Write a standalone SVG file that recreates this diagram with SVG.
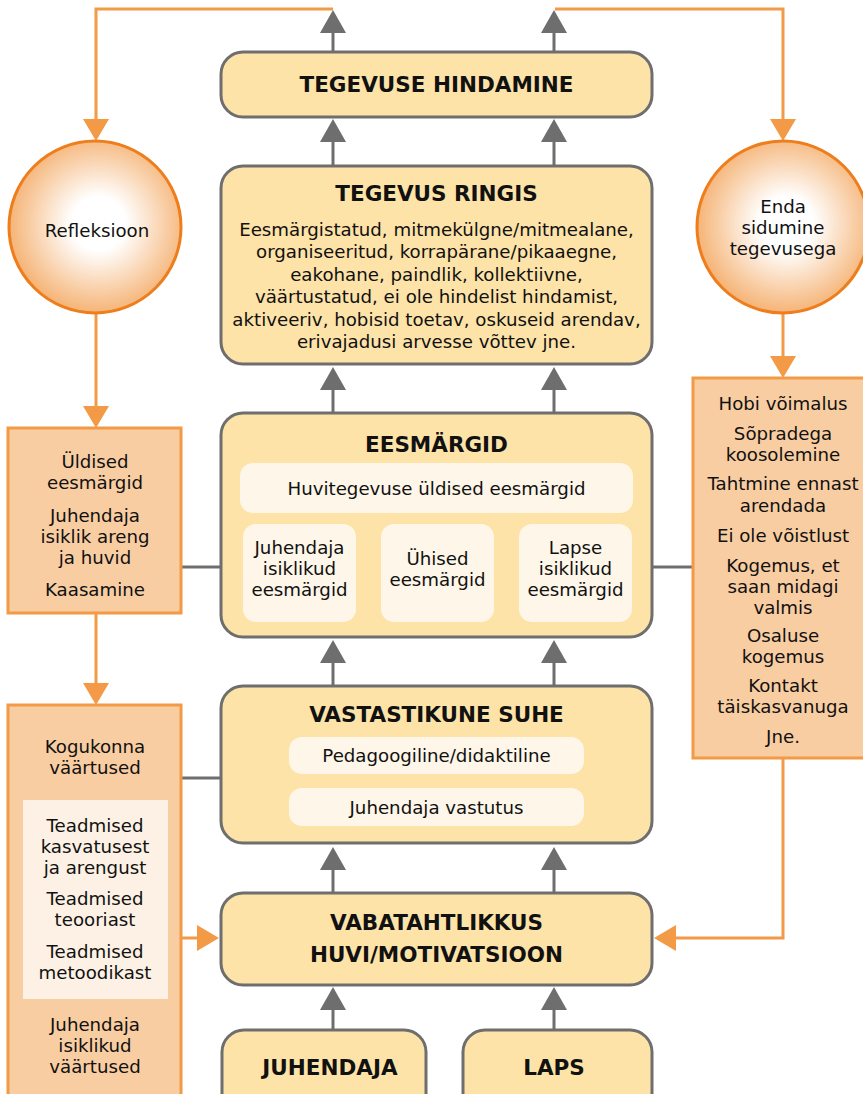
<svg xmlns="http://www.w3.org/2000/svg" width="863" height="1094" viewBox="0 0 863 1094">
  <defs>
    <style>
      .box { fill: #fde3a8; stroke: #6e6e6e; stroke-width: 3; }
      .inner { fill: #fef6e8; }
      .side { fill: #f9cda2; stroke: #f29a46; stroke-width: 3; }
      .circ { fill: url(#glow); stroke: #ee7d1c; stroke-width: 3; }
      .gray { fill: none; stroke: #6e6e6e; stroke-width: 3; }
      .orange { fill: none; stroke: #f29a46; stroke-width: 3; }
      text { font-family: "DejaVu Sans", "Noto Sans", sans-serif; fill: #111; text-anchor: middle; }
      .t { font-size: 18.2px; }
      .h { font-size: 21.5px; font-weight: bold; }
    </style>
    <radialGradient id="glow" cx="0.52" cy="0.48" r="0.52">
      <stop offset="0" stop-color="#ffffff"/>
      <stop offset="0.3" stop-color="#ffffff"/>
      <stop offset="1" stop-color="#f5b477"/>
    </radialGradient>
    <marker id="ag" markerUnits="userSpaceOnUse" viewBox="0 0 23 26" refX="0" refY="13" markerWidth="23" markerHeight="26" orient="auto">
      <path d="M0,0 L23,13 L0,26 z" fill="#6e6e6e"/>
    </marker>
    <marker id="ao" markerUnits="userSpaceOnUse" viewBox="0 0 22 26" refX="0" refY="13" markerWidth="22" markerHeight="26" orient="auto">
      <path d="M0,0 L22,13 L0,26 z" fill="#f29a46"/>
    </marker>
  </defs>

  <g id="connectors">
    <!-- upward flow through the centre column -->
    <path class="gray" d="M333,52 V33" marker-end="url(#ag)"/>
    <path class="gray" d="M554,52 V33" marker-end="url(#ag)"/>
    <path class="gray" d="M333,165 V142" marker-end="url(#ag)"/>
    <path class="gray" d="M554,165 V142" marker-end="url(#ag)"/>
    <path class="gray" d="M333,413 V390" marker-end="url(#ag)"/>
    <path class="gray" d="M554,413 V390" marker-end="url(#ag)"/>
    <path class="gray" d="M333,686 V663" marker-end="url(#ag)"/>
    <path class="gray" d="M554,686 V663" marker-end="url(#ag)"/>
    <path class="gray" d="M333,893 V870" marker-end="url(#ag)"/>
    <path class="gray" d="M554,893 V870" marker-end="url(#ag)"/>
    <path class="gray" d="M333,1030 V1010" marker-end="url(#ag)"/>
    <path class="gray" d="M554,1030 V1010" marker-end="url(#ag)"/>
    <!-- side links -->
    <path class="gray" d="M181,567 H221"/>
    <path class="gray" d="M652,567 H693"/>
    <path class="gray" d="M181,778 H221"/>
    <!-- feedback loops -->
    <path class="orange" d="M333,9 H96 V119" marker-end="url(#ao)"/>
    <path class="orange" d="M555,9 H783 V119" marker-end="url(#ao)"/>
    <path class="orange" d="M96,313 V406" marker-end="url(#ao)"/>
    <path class="orange" d="M96,613 V683" marker-end="url(#ao)"/>
    <path class="orange" d="M783,313 V356" marker-end="url(#ao)"/>
    <path class="orange" d="M783,758 V938 H676" marker-end="url(#ao)"/>
    <path class="orange" d="M181,938 H197" marker-end="url(#ao)"/>
  </g>

  <g id="hindamine">
    <rect class="box" x="221" y="52" width="431" height="65" rx="22"/>
    <text class="h" x="436.5" y="92">TEGEVUSE HINDAMINE</text>
  </g>

  <g id="ringis">
    <rect class="box" x="221" y="166" width="431" height="198" rx="22"/>
    <text class="h" x="436.5" y="201">TEGEVUS RINGIS</text>
    <text class="t" x="436.5" y="236">Eesmärgistatud, mitmekülgne/mitmealane,</text>
    <text class="t" x="436.5" y="258">organiseeritud, korrapärane/pikaaegne,</text>
    <text class="t" x="436.5" y="281">eakohane, paindlik, kollektiivne,</text>
    <text class="t" x="436.5" y="303">väärtustatud, ei ole hindelist hindamist,</text>
    <text class="t" x="436.5" y="326">aktiveeriv, hobisid toetav, oskuseid arendav,</text>
    <text class="t" x="436.5" y="348">erivajadusi arvesse võttev jne.</text>
  </g>

  <g id="eesmargid">
    <rect class="box" x="221" y="413" width="431" height="224" rx="22"/>
    <text class="h" x="436.5" y="452">EESMÄRGID</text>
    <rect class="inner" x="240" y="463" width="393" height="50" rx="13"/>
    <text class="t" x="436.5" y="495">Huvitegevuse üldised eesmärgid</text>
    <rect class="inner" x="243" y="524" width="113" height="98" rx="13"/>
    <text class="t" x="299.5" y="554">Juhendaja</text>
    <text class="t" x="299.5" y="575">isiklikud</text>
    <text class="t" x="299.5" y="596">eesmärgid</text>
    <rect class="inner" x="381" y="524" width="113" height="98" rx="13"/>
    <text class="t" x="437.5" y="565">Ühised</text>
    <text class="t" x="437.5" y="586">eesmärgid</text>
    <rect class="inner" x="519" y="524" width="113" height="98" rx="13"/>
    <text class="t" x="575.5" y="554">Lapse</text>
    <text class="t" x="575.5" y="575">isiklikud</text>
    <text class="t" x="575.5" y="596">eesmärgid</text>
  </g>

  <g id="suhe">
    <rect class="box" x="221" y="686" width="431" height="157" rx="22"/>
    <text class="h" x="436.5" y="722">VASTASTIKUNE SUHE</text>
    <rect class="inner" x="289" y="737" width="295" height="37" rx="13"/>
    <text class="t" x="436.5" y="762">Pedagoogiline/didaktiline</text>
    <rect class="inner" x="289" y="788" width="295" height="38" rx="13"/>
    <text class="t" x="436.5" y="814">Juhendaja vastutus</text>
  </g>

  <g id="vabatahtlikkus">
    <rect class="box" x="221" y="893" width="431" height="92" rx="22"/>
    <text class="h" x="436.5" y="930">VABATAHTLIKKUS</text>
    <text class="h" x="436.5" y="962">HUVI/MOTIVATSIOON</text>
  </g>

  <g id="juhendaja">
    <rect class="box" x="222" y="1030" width="204" height="90" rx="22"/>
    <text class="h" x="330" y="1075">JUHENDAJA</text>
  </g>

  <g id="laps">
    <rect class="box" x="463" y="1030" width="189" height="90" rx="22"/>
    <text class="h" x="554" y="1075">LAPS</text>
  </g>

  <g id="refleksioon">
    <circle class="circ" cx="95" cy="227" r="86"/>
    <text class="t" x="97" y="237">Refleksioon</text>
  </g>

  <g id="sidumine">
    <circle class="circ" cx="783" cy="227" r="86"/>
    <text class="t" x="783" y="213">Enda</text>
    <text class="t" x="783" y="234">sidumine</text>
    <text class="t" x="783" y="255">tegevusega</text>
  </g>

  <g id="juhendaja-eesmargid">
    <rect class="side" x="8" y="428" width="173" height="185"/>
    <text class="t" x="95" y="468">Üldised</text>
    <text class="t" x="95" y="489">eesmärgid</text>
    <text class="t" x="95" y="522">Juhendaja</text>
    <text class="t" x="95" y="543">isiklik areng</text>
    <text class="t" x="95" y="564">ja huvid</text>
    <text class="t" x="95" y="596">Kaasamine</text>
  </g>

  <g id="vaartused">
    <rect class="side" x="8" y="705" width="173" height="400"/>
    <text class="t" x="95" y="753">Kogukonna</text>
    <text class="t" x="95" y="774">väärtused</text>
    <rect x="23" y="800" width="145" height="199" fill="#fdf1e5"/>
    <text class="t" x="95" y="832">Teadmised</text>
    <text class="t" x="95" y="853">kasvatusest</text>
    <text class="t" x="95" y="874">ja arengust</text>
    <text class="t" x="95" y="905">Teadmised</text>
    <text class="t" x="95" y="926">teooriast</text>
    <text class="t" x="95" y="958">Teadmised</text>
    <text class="t" x="95" y="979">metoodikast</text>
    <text class="t" x="95" y="1031">Juhendaja</text>
    <text class="t" x="95" y="1052">isiklikud</text>
    <text class="t" x="95" y="1073">väärtused</text>
  </g>

  <g id="lapse-motiivid">
    <rect class="side" x="693" y="378" width="185" height="380"/>
    <text class="t" x="783" y="410">Hobi võimalus</text>
    <text class="t" x="783" y="440">Sõpradega</text>
    <text class="t" x="783" y="461">koosolemine</text>
    <text class="t" x="783" y="490">Tahtmine ennast</text>
    <text class="t" x="783" y="512">arendada</text>
    <text class="t" x="783" y="542">Ei ole võistlust</text>
    <text class="t" x="783" y="572">Kogemus, et</text>
    <text class="t" x="783" y="593">saan midagi</text>
    <text class="t" x="783" y="614">valmis</text>
    <text class="t" x="783" y="642">Osaluse</text>
    <text class="t" x="783" y="663">kogemus</text>
    <text class="t" x="783" y="692">Kontakt</text>
    <text class="t" x="783" y="713">täiskasvanuga</text>
    <text class="t" x="783" y="743">Jne.</text>
  </g>
</svg>
